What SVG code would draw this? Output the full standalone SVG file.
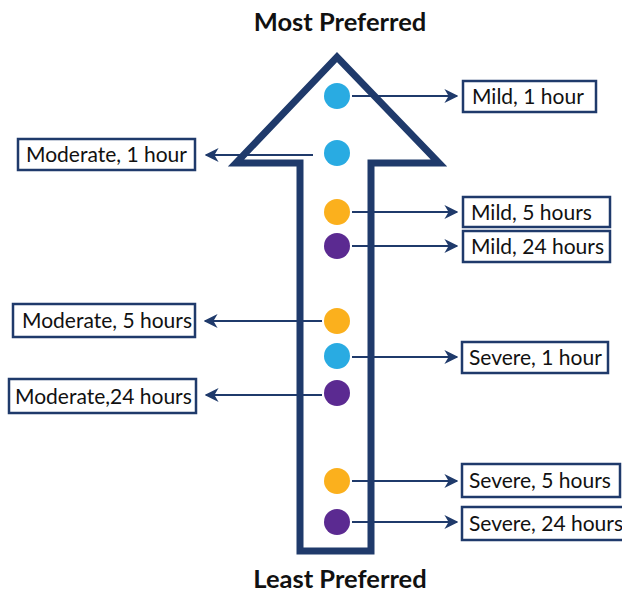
<svg xmlns="http://www.w3.org/2000/svg" width="622" height="593" viewBox="0 0 622 593">
<style>
.lbl{font-family:Lato,"Liberation Sans",sans-serif;font-size:21px;fill:#111}
.ttl{font-family:Lato,"Liberation Sans",sans-serif;font-size:25.5px;font-weight:bold;fill:#111}
.box{fill:#fff;stroke:#1f3a6b;stroke-width:2.5}
.con{stroke:#1f3a6b;stroke-width:2;fill:none}
.cy{fill:#29abe2}.or{fill:#fbb01d}.pu{fill:#5b2a91}
</style>
<defs>
<marker id="ah" viewBox="0 0 10 10" refX="9" refY="5" markerWidth="7" markerHeight="7" orient="auto" markerUnits="strokeWidth">
<path d="M0,0 L10,5 L0,10 L3,5 Z" fill="#1f3a6b"/>
</marker>
</defs>
<rect width="622" height="593" fill="#fff"/>
<text class="ttl" x="340" y="31" text-anchor="middle">Most Preferred</text>
<text class="ttl" x="340" y="588" text-anchor="middle">Least Preferred</text>
<g id="bigArrow">
<path d="M300,163 L236,163 L337,57 L439,163 L371,163 L371,551 L300,551 Z" fill="none" stroke="#1f3a6b" stroke-width="7" stroke-linejoin="miter"/>
</g>
<g id="connectors">
<line class="con" x1="352" y1="96" x2="457" y2="96" marker-end="url(#ah)"/>
<line class="con" x1="313" y1="155" x2="206" y2="155" marker-end="url(#ah)"/>
<line class="con" x1="352" y1="212" x2="457" y2="212" marker-end="url(#ah)"/>
<line class="con" x1="352" y1="246" x2="457" y2="246" marker-end="url(#ah)"/>
<line class="con" x1="322" y1="321" x2="205" y2="321" marker-end="url(#ah)"/>
<line class="con" x1="352" y1="357" x2="457" y2="357" marker-end="url(#ah)"/>
<line class="con" x1="322" y1="395" x2="206" y2="395" marker-end="url(#ah)"/>
<line class="con" x1="352" y1="481" x2="457" y2="481" marker-end="url(#ah)"/>
<line class="con" x1="352" y1="522" x2="457" y2="522" marker-end="url(#ah)"/>
</g>
<g id="dots">
<circle class="cy" cx="337" cy="96" r="13"/>
<circle class="cy" cx="337" cy="153" r="13"/>
<circle class="or" cx="337" cy="212" r="13"/>
<circle class="pu" cx="337" cy="246" r="13"/>
<circle class="or" cx="337" cy="321" r="13"/>
<circle class="cy" cx="337" cy="356" r="13"/>
<circle class="pu" cx="337" cy="393" r="13"/>
<circle class="or" cx="337" cy="481" r="13"/>
<circle class="pu" cx="337" cy="522" r="13"/>
</g>
<g id="n-mild1"><rect class="box" x="463" y="81" width="133" height="31"/><text class="lbl" x="472" y="104">Mild, 1 hour</text></g>
<g id="n-mod1"><rect class="box" x="18" y="139" width="177" height="31"/><text class="lbl" x="26" y="162">Moderate, 1 hour</text></g>
<g id="n-mild5"><rect class="box" x="463" y="197" width="147" height="30"/><text class="lbl" x="471" y="220">Mild, 5 hours</text></g>
<g id="n-mild24"><rect class="box" x="463" y="231" width="147" height="31"/><text class="lbl" x="471" y="254">Mild, 24 hours</text></g>
<g id="n-mod5"><rect class="box" x="13" y="304" width="182" height="33"/><text class="lbl" x="22" y="328">Moderate, 5 hours</text></g>
<g id="n-sev1"><rect class="box" x="462" y="342" width="146" height="31"/><text class="lbl" x="469" y="365">Severe, 1 hour</text></g>
<g id="n-mod24"><rect class="box" x="9" y="379" width="187" height="34"/><text class="lbl" x="15" y="404">Moderate,24 hours</text></g>
<g id="n-sev5"><rect class="box" x="462" y="464" width="158" height="33"/><text class="lbl" x="469" y="488">Severe, 5 hours</text></g>
<g id="n-sev24"><rect class="box" x="462" y="507" width="170" height="33"/><text class="lbl" x="469" y="531">Severe, 24 hours</text></g>
</svg>
